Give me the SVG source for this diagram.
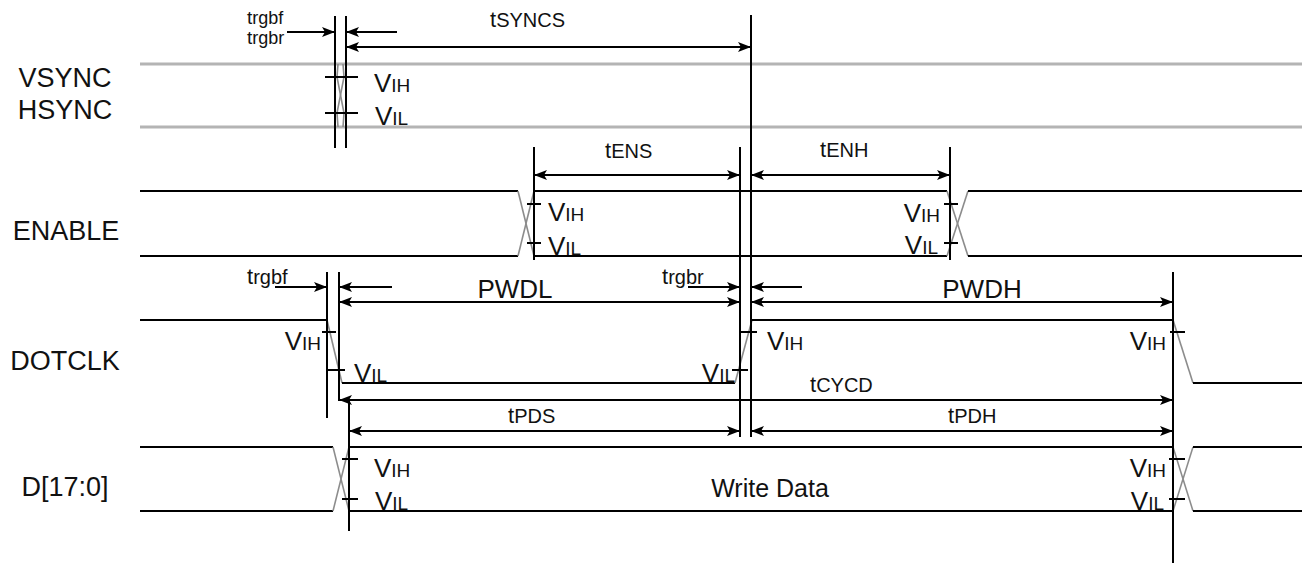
<svg xmlns="http://www.w3.org/2000/svg" width="1302" height="563" viewBox="0 0 1302 563">
<style>
text{font-family:"Liberation Sans",Arial,sans-serif;fill:#111}
.lbl{font-size:27px;text-anchor:middle}
.v{font-size:26px}
.s{font-size:19px}
.t{font-size:22px}
.sm{font-size:18px}
.pw{font-size:26px;text-anchor:middle}
.sig{stroke:#000;stroke-width:2;fill:none}
.gs{stroke:#b4b4b4;stroke-width:3;fill:none}
.tr{stroke:#8c8c8c;stroke-width:1.6;fill:none}
.ref{stroke:#000;stroke-width:2;fill:none}
.tick{stroke:#000;stroke-width:2}
.arr{stroke:#000;stroke-width:2;fill:none;marker-end:url(#ah)}
.dbl{stroke:#000;stroke-width:2;fill:none;marker-end:url(#ah);marker-start:url(#ah)}
.end{text-anchor:end}
</style>
<defs>
<marker id="ah" markerUnits="userSpaceOnUse" markerWidth="14" markerHeight="10" refX="13" refY="5" orient="auto-start-reverse">
<path d="M0,0 L13,5 L0,10 L3,5 z" fill="#000"/>
</marker>
</defs>

<g id="labels">
<text class="lbl" x="65" y="87">VSYNC</text>
<text class="lbl" x="65" y="119">HSYNC</text>
<text class="lbl" x="66" y="240">ENABLE</text>
<text class="lbl" x="65" y="370">DOTCLK</text>
<text class="lbl" x="65" y="496">D[17:0]</text>
</g>

<g id="vsync">
<line class="gs" x1="140" y1="64" x2="1302" y2="64"/>
<line class="gs" x1="140" y1="127" x2="1302" y2="127"/>
<polyline class="tr" points="338,64 337,77 344,113 343,127"/>
<polyline class="tr" points="343,64 344,77 337,113 338,127"/>
<line class="ref" x1="335" y1="16" x2="335" y2="148"/>
<line class="ref" x1="346" y1="16" x2="346" y2="148"/>
<line class="tick" x1="325" y1="77" x2="358" y2="77"/>
<line class="tick" x1="325" y1="113" x2="358" y2="113"/>
<text x="374" y="92"><tspan class="v">V</tspan><tspan class="s">IH</tspan></text>
<text x="375" y="125"><tspan class="v">V</tspan><tspan class="s">IL</tspan></text>
</g>

<g id="enable">
<polyline class="sig" points="140,191 518,191"/>
<polyline class="sig" points="140,256 518,256"/>
<line class="tr" x1="518" y1="191" x2="534" y2="256"/>
<line class="tr" x1="518" y1="256" x2="534" y2="191"/>
<line class="sig" x1="534" y1="191" x2="947" y2="191"/>
<line class="sig" x1="534" y1="256" x2="947" y2="256"/>
<line class="tr" x1="947" y1="191" x2="968" y2="256"/>
<line class="tr" x1="947" y1="256" x2="968" y2="191"/>
<line class="sig" x1="968" y1="191" x2="1302" y2="191"/>
<line class="sig" x1="968" y1="256" x2="1302" y2="256"/>
<line class="ref" x1="534" y1="147" x2="534" y2="260"/>
<line class="ref" x1="950" y1="147" x2="950" y2="260"/>
<line class="tick" x1="527" y1="204" x2="541" y2="204"/>
<line class="tick" x1="527" y1="243" x2="541" y2="243"/>
<line class="tick" x1="944" y1="204" x2="958" y2="204"/>
<line class="tick" x1="944" y1="243" x2="958" y2="243"/>
<text x="548" y="221"><tspan class="v">V</tspan><tspan class="s">IH</tspan></text>
<text x="548" y="255"><tspan class="v">V</tspan><tspan class="s">IL</tspan></text>
<text class="end" x="940" y="222"><tspan class="v">V</tspan><tspan class="s">IH</tspan></text>
<text class="end" x="938" y="254"><tspan class="v">V</tspan><tspan class="s">IL</tspan></text>
</g>

<g id="dotclk">
<line class="sig" x1="140" y1="320" x2="327" y2="320"/>
<line class="tr" x1="327" y1="320" x2="342" y2="383"/>
<line class="sig" x1="342" y1="383" x2="735" y2="383"/>
<line class="tr" x1="735" y1="383" x2="752" y2="320"/>
<line class="sig" x1="752" y1="320" x2="1173" y2="320"/>
<line class="tr" x1="1173" y1="320" x2="1193" y2="383"/>
<line class="sig" x1="1193" y1="383" x2="1302" y2="383"/>
<line class="ref" x1="327" y1="272" x2="327" y2="418"/>
<line class="ref" x1="339" y1="272" x2="339" y2="401"/>
<line class="tick" x1="322" y1="332" x2="336" y2="332"/>
<line class="tick" x1="328" y1="370" x2="345" y2="370"/>
<line class="tick" x1="740" y1="332" x2="757" y2="332"/>
<line class="tick" x1="732" y1="370" x2="748" y2="370"/>
<line class="tick" x1="1170" y1="332" x2="1185" y2="332"/>
<text class="end" x="321" y="350"><tspan class="v">V</tspan><tspan class="s">IH</tspan></text>
<text x="354" y="382"><tspan class="v">V</tspan><tspan class="s">IL</tspan></text>
<text class="end" x="735" y="382"><tspan class="v">V</tspan><tspan class="s">IL</tspan></text>
<text x="767" y="350"><tspan class="v">V</tspan><tspan class="s">IH</tspan></text>
<text class="end" x="1166" y="350"><tspan class="v">V</tspan><tspan class="s">IH</tspan></text>
</g>

<g id="data">
<line class="sig" x1="140" y1="447" x2="333" y2="447"/>
<line class="sig" x1="140" y1="511" x2="333" y2="511"/>
<line class="tr" x1="333" y1="447" x2="349" y2="511"/>
<line class="tr" x1="333" y1="511" x2="349" y2="447"/>
<line class="sig" x1="349" y1="447" x2="1173" y2="447"/>
<line class="sig" x1="349" y1="511" x2="1173" y2="511"/>
<line class="tr" x1="1173" y1="447" x2="1193" y2="511"/>
<line class="tr" x1="1173" y1="511" x2="1193" y2="447"/>
<line class="sig" x1="1193" y1="447" x2="1302" y2="447"/>
<line class="sig" x1="1193" y1="511" x2="1302" y2="511"/>
<line class="ref" x1="349" y1="401" x2="349" y2="531"/>
<line class="tick" x1="342" y1="459" x2="358" y2="459"/>
<line class="tick" x1="342" y1="499" x2="358" y2="499"/>
<line class="tick" x1="1169" y1="459" x2="1185" y2="459"/>
<line class="tick" x1="1169" y1="499" x2="1185" y2="499"/>
<text x="374" y="477"><tspan class="v">V</tspan><tspan class="s">IH</tspan></text>
<text x="375" y="510"><tspan class="v">V</tspan><tspan class="s">IL</tspan></text>
<text class="end" x="1166" y="477"><tspan class="v">V</tspan><tspan class="s">IH</tspan></text>
<text class="end" x="1164" y="510"><tspan class="v">V</tspan><tspan class="s">IL</tspan></text>
<text class="pw" x="770" y="497" style="font-size:25px">Write Data</text>
</g>

<g id="refs">
<line class="ref" x1="751" y1="15" x2="751" y2="437"/>
<line class="ref" x1="740" y1="147" x2="740" y2="437"/>
<line class="ref" x1="1173" y1="272" x2="1173" y2="563"/>
</g>

<g id="connectors">
<line class="arr" x1="287" y1="32" x2="335" y2="32"/>
<line class="arr" x1="397" y1="32" x2="346" y2="32"/>
<line class="dbl" x1="346" y1="47" x2="751" y2="47"/>
<line class="dbl" x1="534" y1="175" x2="740" y2="175"/>
<line class="dbl" x1="751" y1="175" x2="950" y2="175"/>
<line class="arr" x1="275" y1="287" x2="327" y2="287"/>
<line class="arr" x1="392" y1="287" x2="339" y2="287"/>
<line class="arr" x1="688" y1="287" x2="740" y2="287"/>
<line class="arr" x1="802" y1="287" x2="751" y2="287"/>
<line class="dbl" x1="339" y1="302" x2="740" y2="302"/>
<line class="dbl" x1="751" y1="302" x2="1173" y2="302"/>
<line class="dbl" x1="339" y1="400" x2="1173" y2="400"/>
<line class="dbl" x1="349" y1="431" x2="740" y2="431"/>
<line class="dbl" x1="751" y1="431" x2="1173" y2="431"/>
</g>

<g id="timing-labels">
<text x="247" y="24" style="font-size:19px">t<tspan class="sm">rgbf</tspan></text>
<text x="247" y="44" style="font-size:19px">t<tspan class="sm">rgbr</tspan></text>
<text class="t" x="490" y="27">t<tspan style="font-size:20px">SYNCS</tspan></text>
<text class="t" x="605" y="158">t<tspan style="font-size:20px">ENS</tspan></text>
<text class="t" x="820" y="157">t<tspan style="font-size:20px">ENH</tspan></text>
<text class="t" x="247" y="284">t<tspan style="font-size:20px">rgbf</tspan></text>
<text class="t" x="662" y="284">t<tspan style="font-size:20px">rgbr</tspan></text>
<text class="pw" x="515" y="298">PWDL</text>
<text class="pw" x="982" y="298">PWDH</text>
<text class="t" x="810" y="392">t<tspan style="font-size:20px">CYCD</tspan></text>
<text class="t" x="508" y="423">t<tspan style="font-size:20px">PDS</tspan></text>
<text class="t" x="948" y="423">t<tspan style="font-size:20px">PDH</tspan></text>
</g>
</svg>
